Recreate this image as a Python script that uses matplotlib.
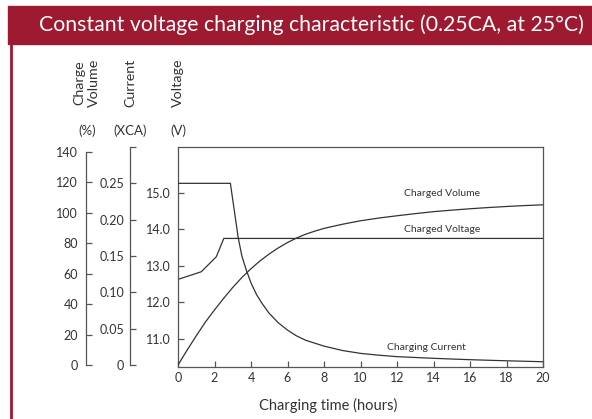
import matplotlib
matplotlib.use("Agg")
import matplotlib.pyplot as plt
from matplotlib.lines import Line2D
from matplotlib.patches import Rectangle

plt.rcParams['font.family'] = ['Lato', 'DejaVu Sans']

# charging time (hours)
hours_ticks = [0, 2, 4, 6, 8, 10, 12, 14, 16, 18, 20]

# charged voltage (V)
volt_h = [0, 1.28, 2.1, 2.51, 20]
volt_v = [12.63, 12.84, 13.25, 13.75, 13.75]

# charging current (xCA)
curr_h = [0, 2.87, 3.1, 3.3, 3.5, 3.75, 4.0, 4.3, 4.6, 5.0, 5.5, 6.0, 6.5, 7.0, 8, 9, 10,
          11, 12, 14, 16, 18, 20]
curr_i = [0.25, 0.25, 0.21, 0.175, 0.150, 0.130, 0.113, 0.097, 0.085, 0.071, 0.058, 0.048,
          0.040, 0.034, 0.026, 0.020, 0.016, 0.0135, 0.0115, 0.0092, 0.0073, 0.0058, 0.0045]

# charged volume (%)
vol_h = [0, 0.5, 1, 1.5, 2, 2.5, 3, 3.5, 4, 4.5, 5, 5.5, 6, 6.5, 7, 7.5, 8, 9, 10, 11, 12,
         13, 14, 15, 16, 17, 18, 19, 20]
vol_c = [0, 9.8, 19.2, 28.2, 36.2, 43.8, 51, 57.5, 63.3, 68.5, 73, 77, 80.5, 83.5, 86, 88, 89.8,
         92.5, 94.8, 96.6, 98.1, 99.5, 100.8, 101.8, 102.7, 103.5, 104.2, 104.8, 105.3]

volt_ticks = [11.0, 12.0, 13.0, 14.0, 15.0]
curr_ticks = [0, 0.05, 0.10, 0.15, 0.20, 0.25, 0.30]
curr_labels = ['0', '0.05', '0.10', '0.15', '0.20', '0.25', '']
vol_ticks = [0, 20, 40, 60, 80, 100, 120, 140]

W, H = 592, 419
fig = plt.figure(figsize=(W / 100, H / 100), dpi=100)

red = '#9d1a30'
ink = '#333333'
axcol = '#555555'

# header band and frame
fig.patches.append(Rectangle((8 / W, 1 - 44 / H), 1 - 8 / W, 38 / H,
                             transform=fig.transFigure, color=red, zorder=0))
fig.lines.append(Line2D([10.5 / W, 10.5 / W], [0, 1 - 44 / H],
                        transform=fig.transFigure, color=red, lw=2))
fig.text(39 / W, 1 - 25 / H, 'Constant voltage charging characteristic (0.25CA, at 25\u00b0C)',
         color='white', fontsize=15.3, ha='left', va='center')

rect = [178 / W, 1 - 367 / H, 365 / W, 220 / H]
ax = fig.add_axes(rect)
axc = fig.add_axes(rect)
axq = fig.add_axes(rect)

for a in (axc, axq):
    a.patch.set_visible(False)
    for s in ('top', 'right', 'bottom'):
        a.spines[s].set_visible(False)
    a.xaxis.set_visible(False)
    a.set_xlim(0, 20)

# main (voltage) axes
ax.plot(volt_h, volt_v, color=ink, lw=0.9)
ax.set_xlim(0, 20)
ax.set_ylim(10.235, 16.25)
ax.set_xticks(hours_ticks)
ax.set_yticks(volt_ticks)
ax.set_yticklabels(['%.1f' % v for v in volt_ticks])
for s in ax.spines.values():
    s.set_color(axcol)
    s.set_linewidth(0.9)
ax.tick_params(axis='both', direction='in', length=4, width=0.9, color=axcol,
               labelsize=9, labelcolor=ink)
ax.tick_params(axis='y', pad=5)
ax.tick_params(axis='x', pad=3.6)
fig.text(328 / W, 1 - 405 / H, 'Charging time (hours)', fontsize=10.5, color=ink,
         ha='center', va='center')

# current axis
axc.plot(curr_h, curr_i, color=ink, lw=0.9)
axc.set_ylim(-0.00275, 0.30)
axc.spines['left'].set_position(('outward', 48 * 0.72))
axc.spines['left'].set_bounds(0, 0.30)
axc.spines['left'].set_color(axcol)
axc.spines['left'].set_linewidth(0.9)
axc.set_yticks(curr_ticks)
axc.set_yticklabels(curr_labels)
axc.tick_params(axis='y', direction='in', length=4, width=0.9, color=axcol,
                labelsize=9, labelcolor=ink, pad=4.3)

# charge volume axis
axq.plot(vol_h, vol_c, color=ink, lw=0.9)
axq.set_ylim(-1.31, 143.3)
axq.spines['left'].set_position(('outward', 92 * 0.72))
axq.spines['left'].set_bounds(0, 140)
axq.spines['left'].set_color(axcol)
axq.spines['left'].set_linewidth(0.9)
axq.set_yticks(vol_ticks)
axq.tick_params(axis='y', direction='in', length=4, width=0.9, color=axcol,
                labelsize=9, labelcolor=ink, pad=5.8)

# curve labels
ax.text(14.46, 14.99, 'Charged Volume', fontsize=7.5, color=ink, ha='center', va='center')
ax.text(14.46, 14.00, 'Charged Voltage', fontsize=7.5, color=ink, ha='center', va='center')
ax.text(13.64, 10.78, 'Charging Current', fontsize=7.5, color=ink, ha='center', va='center')

# axis titles
for x, title, unit in [(87, 'Charge\nVolume', '(%)'), (130, 'Current', '(XCA)'), (178, 'Voltage', '(V)')]:
    fig.text(x / W, 1 - 107 / H, title, rotation=90, fontsize=10.3, color=ink,
             ha='center', va='bottom', linespacing=1.25)
    fig.text(x / W, 1 - 131 / H, unit, fontsize=9.5, color=ink, ha='center', va='center')

fig.savefig('out.png', dpi=100)
